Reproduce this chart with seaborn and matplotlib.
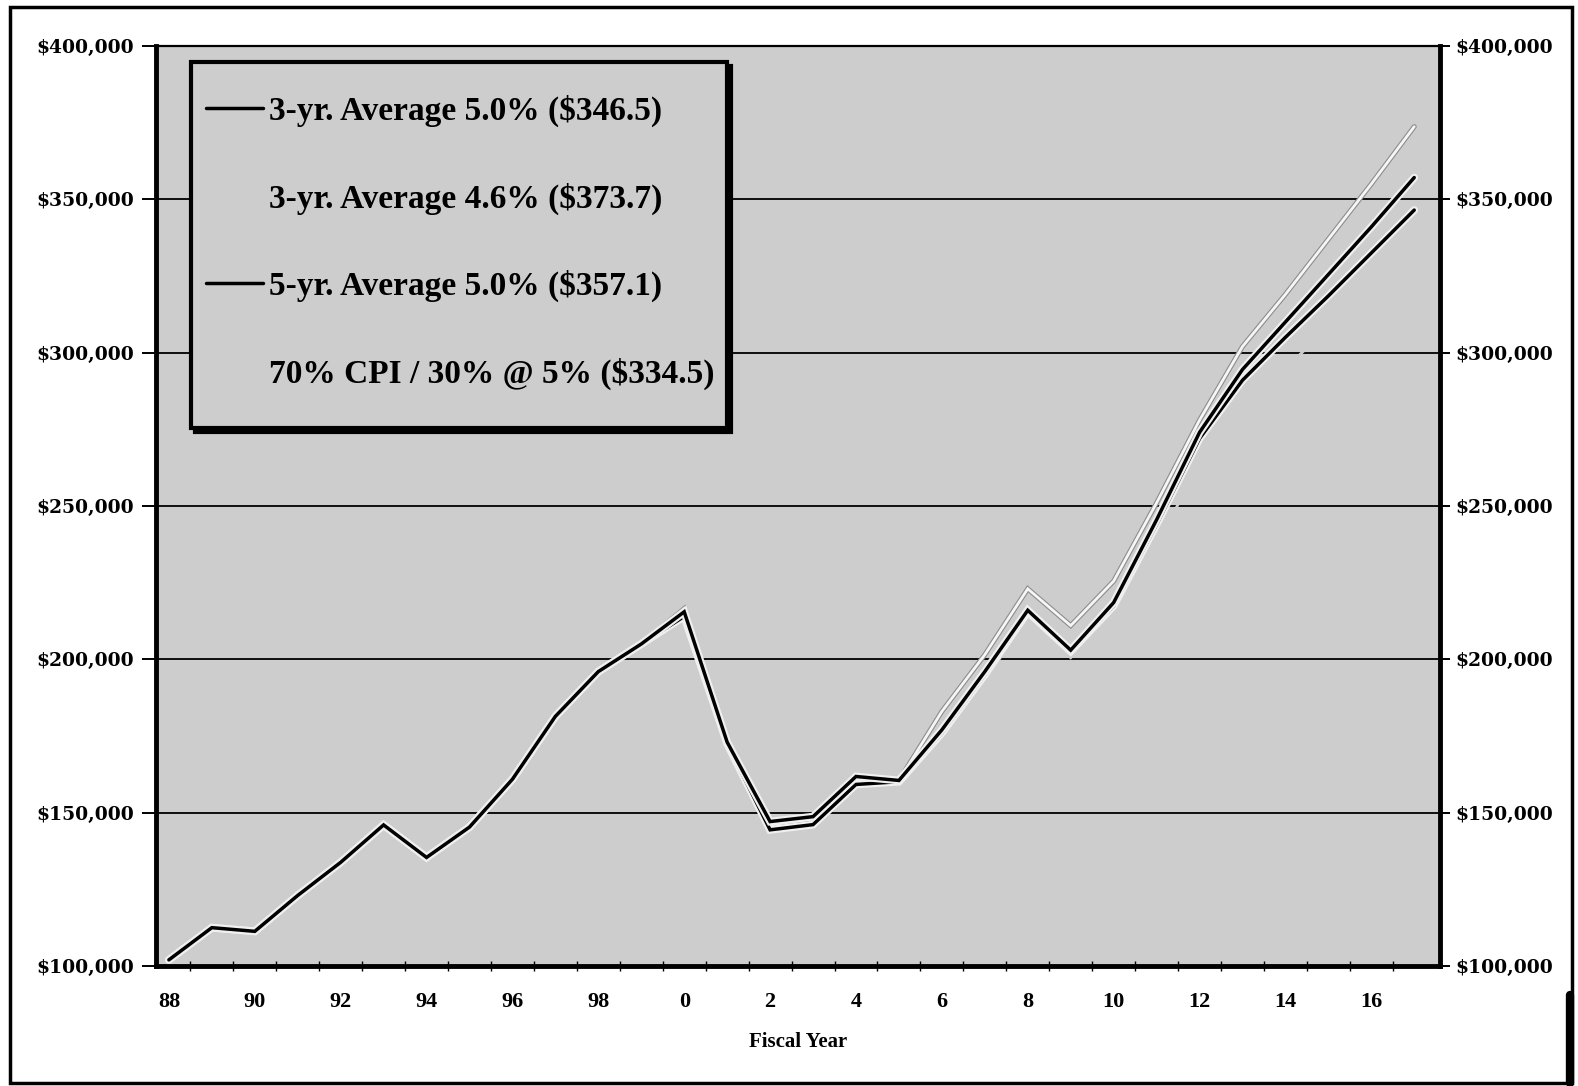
import numpy as np
import pandas as pd
import matplotlib
matplotlib.use("Agg")
import matplotlib.pyplot as plt
import matplotlib.patheffects as pe
from matplotlib.lines import Line2D
from matplotlib.patches import Rectangle
from matplotlib.ticker import FuncFormatter, FixedLocator
import seaborn as sns

# ---- data (thousands of dollars) ----
fiscal_years = ["88", "89", "90", "91", "92", "93", "94", "95", "96", "97",
                "98", "99", "0", "1", "2", "3", "4", "5", "6", "7", "8", "9",
                "10", "11", "12", "13", "14", "15", "16", "17"]
tick_labels = ["88", "90", "92", "94", "96", "98", "0", "2", "4", "6", "8",
               "10", "12", "14", "16"]

# actual amounts FY88-FY99, shared by every series
history = [102.0, 112.5, 111.3, 123.0, 133.8, 146.0, 135.4, 145.3, 160.9,
           181.4, 196.0, 205.0]

# FY00-FY17 for each projection
avg3_50 = [214.0, 172.5, 144.4, 146.1, 159.2, 160.1, 176.0, 195.0, 215.5,
           202.6, 217.5, 244.0, 272.0, 291.0, 305.0, 318.5, 332.5, 346.5]
avg3_46 = [216.5, 173.5, 146.0, 148.0, 160.5, 160.5, 183.0, 201.5, 223.0,
           211.0, 225.5, 251.0, 278.0, 302.0, 319.0, 337.0, 355.0, 373.7]
avg5_50 = [215.5, 173.0, 147.1, 148.7, 161.8, 160.5, 177.0, 196.0, 216.0,
           203.0, 218.5, 245.5, 274.0, 294.5, 310.0, 325.5, 341.0, 357.1]
cpi_mix = [214.0, 172.0, 145.0, 146.5, 159.5, 160.0, 175.0, 193.5, 213.0,
           200.5, 214.5, 238.0, 263.0, 282.0, 295.0, 308.0, 321.0, 334.5]

series_names = ["3-yr. Average 5.0% ($346.5)",
                "3-yr. Average 4.6% ($373.7)",
                "5-yr. Average 5.0% ($357.1)",
                "70% CPI / 30% @ 5% ($334.5)"]

rows = []
for name, proj in zip(series_names, [avg3_50, avg3_46, avg5_50, cpi_mix]):
    vals = history + proj
    for pos, v in enumerate(vals):
        if name == series_names[1] and pos < 10:
            continue  # 4.6% line drawn from FY98 on
        rows.append({"series": name, "pos": pos, "value": v * 1000.0})
df = pd.DataFrame(rows)

# ---- style ----
sns.set_theme(style="white")
plt.rcParams["font.family"] = ["Liberation Serif", "DejaVu Serif"]
plt.rcParams["font.weight"] = "bold"
for key in ["text.color", "axes.labelcolor", "xtick.color", "ytick.color"]:
    plt.rcParams[key] = "black"

PLOT_BG = "#cdcdcd"

fig = plt.figure(figsize=(15.78, 10.86), dpi=100)
fig.patch.set_facecolor("white")
L, R, T, B = 156, 1440, 46, 966
ax = fig.add_axes([L / 1578, 1 - B / 1086, (R - L) / 1578, (B - T) / 1086])
ax.set_facecolor(PLOT_BG)

halo = [pe.Stroke(linewidth=5.6, foreground="#f0f0f0"), pe.Normal()]
white_edge = [pe.Stroke(linewidth=3.6, foreground="#8c8c8c"), pe.Normal()]

styles = {
    series_names[3]: dict(color=PLOT_BG, lw=2.0, z=2, fx=None),
    series_names[1]: dict(color="#f6f6f6", lw=2.0, z=3, fx=white_edge),
    series_names[0]: dict(color="black", lw=2.5, z=4, fx=halo),
    series_names[2]: dict(color="black", lw=2.5, z=5, fx=halo),
}
for name in [series_names[3], series_names[1], series_names[0], series_names[2]]:
    st = styles[name]
    sub = df[df["series"] == name]
    sns.lineplot(data=sub, x="pos", y="value", ax=ax, color=st["color"],
                 linewidth=st["lw"], zorder=st["z"], legend=False,
                 estimator=None, sort=False)
    line = ax.get_lines()[-1]
    if st["fx"] is not None:
        line.set_path_effects(st["fx"])
    line.set_solid_joinstyle("miter")

# ---- axes ----
ax.set_xlim(-0.3, len(fiscal_years) - 0.4)
ax.set_ylim(100000, 400000)
yt = [100000, 150000, 200000, 250000, 300000, 350000, 400000]
ax.set_yticks(yt)
money = FuncFormatter(lambda v, p: f"${v:,.0f}")
ax.yaxis.set_major_formatter(money)
ax.grid(axis="y", color="black", linewidth=1.3, zorder=1)
ax.set_axisbelow(True)

major_pos = [fiscal_years.index(t) for t in tick_labels]
ax.xaxis.set_major_locator(FixedLocator(major_pos))
ax.set_xticklabels(tick_labels)
ax.xaxis.set_minor_locator(FixedLocator([i + 0.5 for i in range(len(fiscal_years) - 1)]))
ax.tick_params(axis="x", which="major", length=0, pad=19, labelsize=16)
ax.tick_params(axis="x", which="minor", direction="inout", length=7,
               width=1.0, color="black", bottom=True)
ax.tick_params(axis="y", which="major", direction="out", length=10, width=1.4,
               color="black", left=True, pad=6)
for lbl in ax.get_yticklabels():
    lbl.set_fontfamily("DejaVu Serif")
    lbl.set_fontweight("bold")
    lbl.set_fontsize(13.5)
for lbl in ax.get_xticklabels():
    lbl.set_fontweight("bold")

ax.set_xlabel("Fiscal Year", fontsize=15, fontweight="bold", labelpad=14)
ax.set_ylabel("")

for side, lw in [("left", 3.5), ("bottom", 3.5), ("right", 3.5), ("top", 1.6)]:
    ax.spines[side].set_visible(True)
    ax.spines[side].set_color("black")
    ax.spines[side].set_linewidth(lw)
    ax.spines[side].set_zorder(6)

# right-hand dollar scale
ax2 = ax.twinx()
ax2.set_ylim(ax.get_ylim())
ax2.set_yticks(yt)
ax2.yaxis.set_major_formatter(money)
ax2.tick_params(axis="y", direction="out", length=7, width=1.4, color="black", pad=4)
for lbl in ax2.get_yticklabels():
    lbl.set_fontfamily("DejaVu Serif")
    lbl.set_fontweight("bold")
    lbl.set_fontsize(13.5)
ax2.grid(False)
for s in ax2.spines.values():
    s.set_visible(False)

# ---- legend: boxed panel with a drop shadow ----
box_x0, box_x1 = 35 / (R - L), 571 / (R - L)
box_y0, box_y1 = (B - 428) / (B - T), (B - 62) / (B - T)
shadow_dx, shadow_dy = 4 / (R - L), 4 / (B - T)
ax.add_patch(Rectangle((box_x0 + shadow_dx, box_y0 - shadow_dy), box_x1 - box_x0,
                       box_y1 - box_y0, transform=ax.transAxes, facecolor="black",
                       edgecolor="black", linewidth=3.0, zorder=8, clip_on=False))
ax.add_patch(Rectangle((box_x0, box_y0), box_x1 - box_x0, box_y1 - box_y0,
                       transform=ax.transAxes, facecolor=PLOT_BG,
                       edgecolor="black", linewidth=3.0, zorder=9, clip_on=False))

handles = [
    Line2D([], [], color="black", lw=2.5),
    Line2D([], [], color="none", lw=2.5),
    Line2D([], [], color="black", lw=2.5),
    Line2D([], [], color="none", lw=2.5),
]
leg = ax.legend(handles, series_names, loc="upper left",
                bbox_to_anchor=(50 / (R - L), (B - 95) / (B - T)),
                frameon=False,
                prop={"family": "Liberation Serif", "weight": "bold", "size": 24},
                handlelength=1.7, handletextpad=0.18,
                labelspacing=1.66, borderpad=0.0, borderaxespad=0.0)
leg.set_zorder(10)

# outer border
fig.add_artist(Rectangle((10 / 1578, 1 - 1083 / 1086), 1562 / 1578, 1076 / 1086,
                         transform=fig.transFigure, fill=False,
                         edgecolor="black", linewidth=2.5))
fig.add_artist(Line2D([1570 / 1578, 1570 / 1578], [1 - 1083 / 1086, 1 - 995 / 1086],
                      transform=fig.transFigure, color="black", linewidth=6))

fig.savefig("out.png", dpi=100, facecolor="white")
